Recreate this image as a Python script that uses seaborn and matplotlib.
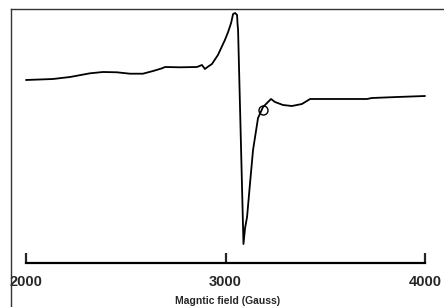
import pandas as pd
import seaborn as sb
import matplotlib
matplotlib.use('Agg')
import matplotlib.pyplot as plt

# Data (arbitrary intensity units)
Field = [2000, 2135, 2221, 2321, 2386, 2456, 2521, 2586, 2637, 2682, 2697, 2772,
         2857, 2882, 2897, 2912, 2932, 2962, 2997, 3013, 3028, 3038, 3048, 3058,
         3060, 3063, 3090, 3098, 3108, 3123, 3138, 3163, 3188, 3208, 3228, 3248,
         3288, 3333, 3383, 3424, 3474, 3609, 3709, 3734, 3860, 4000]
Signal = [183, 184, 186, 189.7, 191, 190.7, 189.3, 189.3, 192, 194.7, 196, 195.7,
          196, 198, 194, 196.3, 199, 208, 223, 231, 240, 249, 250, 248,
          240, 233, 19, 35, 46, 80, 113, 145, 156, 160, 164, 161,
          158, 157, 159, 164, 164, 164, 164, 165, 166, 167]
# small circle drawn on the curve
CircleField = [3188]
CircleSignal = [153]
Ticks = [2000, 3000, 4000]

Data = pd.DataFrame({'Field': Field, 'Signal': Signal})

sb.set_style('white')
plt.rcParams['font.family'] = ['Liberation Sans', 'DejaVu Sans']

fig = plt.figure(figsize=(4.44, 3.07), dpi=100)
ax = fig.add_axes([11 / 444, 0, 433 / 444, 298 / 307])

sb.lineplot(data=Data, x='Field', y='Signal', color='black', linewidth=1.3, ax=ax)
ax.plot(CircleField, CircleSignal, marker='o', markersize=6.5, fillstyle='none',
        color='black', markeredgewidth=1.0, linestyle='none')

ax.set_xlim(1925, 4095)
ax.set_ylim(-44, 254)

# frame: only left and top lines
ax.spines['right'].set_visible(False)
ax.spines['left'].set_color('#333333')
ax.spines['top'].set_color('#333333')
ax.spines['left'].set_linewidth(1.0)
ax.spines['top'].set_linewidth(1.0)

# field axis drawn inside the frame
ax.spines['bottom'].set_position(('data', 0))
ax.spines['bottom'].set_bounds(2000, 4000)
ax.spines['bottom'].set_linewidth(1.6)
ax.spines['bottom'].set_color('black')
ax.set_xticks(Ticks)
ax.set_xticklabels([str(t) for t in Ticks], fontweight='bold', fontsize=10.5)
ax.tick_params(axis='x', direction='in', length=7, width=1.6, pad=9, bottom=True)
ax.set_yticks([])
ax.set_ylabel('')
ax.set_xlabel('Magntic field (Gauss)', fontweight='bold', fontsize=7.5, labelpad=5)

plt.savefig('out.png', dpi=100)
